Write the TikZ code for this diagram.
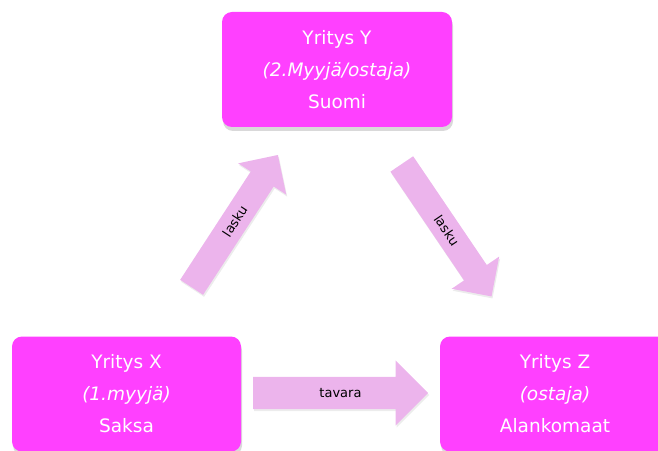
\documentclass[tikz,border=0pt]{standalone}
\usepackage{fontspec}
\setmainfont{DejaVu Sans}
\usepackage{xcolor}
\usetikzlibrary{shapes.arrows,shadows,calc}

\definecolor{firmpink}{RGB}{255,64,255}
\definecolor{flowpink}{RGB}{236,180,236}

\tikzset{
    firm/.style={rectangle, rounded corners=10pt, fill=firmpink, text=white,
        minimum width=230pt, minimum height=115pt, align=center,
        font=\fontsize{18.5}{32}\selectfont,
        drop shadow={shadow xshift=1pt, shadow yshift=-4pt, opacity=0.3}},
    flow/.style={single arrow, fill=flowpink, single arrow tip angle=90,
        single arrow head extend=15pt, text height=9pt, text depth=3pt,
        inner ysep=7.5pt, inner xsep=0pt, anchor=tail,
        drop shadow={shadow xshift=1pt, shadow yshift=-2pt, opacity=0.15}},
    flowtext/.style={font=\fontsize{13}{15}\selectfont, inner sep=0pt}
}

\begin{document}
\begin{tikzpicture}[x=1pt, y=1pt]
    \useasboundingbox (0,0) rectangle (658,450);

    % Firms
    \node[firm] (firmY) at (337,380.5) {Yritys Y\\{\itshape (2.Myyjä/ostaja)}\\Suomi};
    \node[firm, minimum width=229pt] (firmX) at (126.5,56) {Yritys X\\{\itshape (1.myyjä)}\\Saksa};
    \node[firm] (firmZ) at (555,56) {Yritys Z\\{\itshape (ostaja)}\\Alankomaat};

    % Invoices
    \coordinate (xyTail) at (191.5,162.5);
    \coordinate (xyTip) at (278,295);
    \node[flow, minimum height=158pt, rotate=56.9] (invXY) at (xyTail) {};
    \node[flowtext, rotate=56.9] (invXYtext) at ($(xyTail)!0.5!(xyTip)$) {lasku};

    \coordinate (yzTail) at (401.7,286.2);
    \coordinate (yzTip) at (491.7,153.3);
    \node[flow, minimum height=160pt, rotate=-55.9] (invYZ) at (yzTail) {};
    \node[flowtext, rotate=-55.9] (invYZtext) at ($(yzTail)!0.5!(yzTip)$) {lasku};

    % Goods
    \coordinate (xzTail) at (253,57);
    \coordinate (xzTip) at (428,57);
    \node[flow, minimum height=175pt, inner ysep=10pt, single arrow head extend=16.5pt]
        (goodsXZ) at (xzTail) {};
    \node[flowtext] (goodsXZtext) at ($(xzTail)!0.5!(xzTip)$) {tavara};
\end{tikzpicture}
\end{document}
